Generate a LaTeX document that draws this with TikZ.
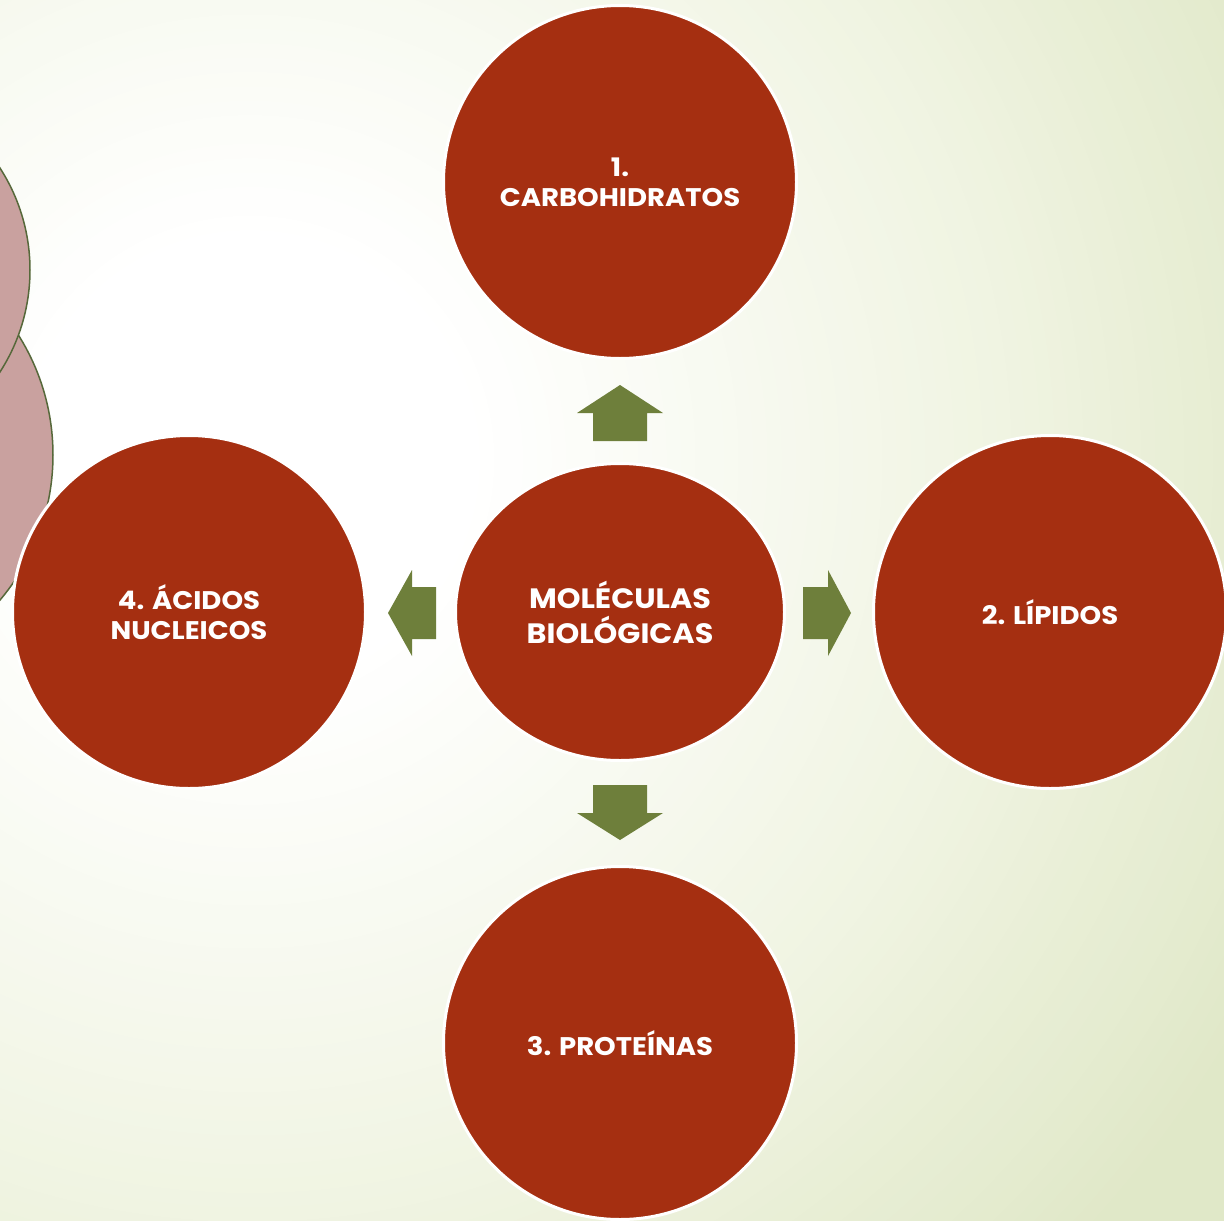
\documentclass[tikz,border=0pt]{standalone}
\usepackage{fontspec}
\setmainfont{Poppins}[FakeStretch=1.08]
\usetikzlibrary{shapes.geometric}
\definecolor{bggreen}{HTML}{E0E8C8}
\definecolor{bgmid}{HTML}{F0F4E2}
\definecolor{redfill}{HTML}{A52F11}
\definecolor{arrowgreen}{HTML}{6E7F3B}
\definecolor{pinkfill}{HTML}{C9A19F}
\definecolor{pinkline}{HTML}{56683A}
\tikzset{
  bubble/.style={circle, fill=redfill, draw=white, line width=3pt, minimum size=353pt, inner sep=0pt, text=white, align=center, font=\fontsize{25.5}{30}\selectfont\bfseries},
  hub/.style={ellipse, fill=redfill, draw=white, line width=3pt, minimum width=329pt, minimum height=297pt, inner sep=0pt, text=white, align=center, font=\fontsize{28}{35}\selectfont\bfseries},
  blockarrow/.style={fill=arrowgreen},
  pinkball/.style={fill=pinkfill, draw=pinkline, line width=1.5pt}
}
\begin{document}
\begin{tikzpicture}[x=1pt,y=-1pt]
\useasboundingbox (0,0) rectangle (1224,1221);
\begin{scope}
\clip (0,0) rectangle (1224,1221);
\fill[bggreen] (0,0) rectangle (1224,1221);
% background: concentric rings approximating a radial gradient
\foreach \i in {80,79,...,1}{
  \pgfmathsetmacro\t{\i/80}
  \pgfmathsetmacro\pa{min(100,max(0,(\t-0.2)/0.46*100))}
  \pgfmathsetmacro\pb{min(100,max(0,(\t-0.66)/0.34*100))}
  \pgfmathsetmacro\rad{\t*1150}
  \fill[color=bggreen!\pb!bgmid!\pa!white] (250,460) circle (\rad);
}
% pink background circles
\draw[pinkball] (-172,455) circle (225);
\draw[pinkball] (-158,270) circle (188);
\end{scope}
% nodes
\node[hub] (center) at (620,612) {MOLÉCULAS\\BIOLÓGICAS};
\node[bubble] (carb) at (620,182) {1.\\CARBOHIDRATOS};
\node[bubble] (lip) at (1050,612) {2. LÍPIDOS};
\node[bubble] (prot) at (620,1043) {3. PROTEÍNAS};
\node[bubble] (acid) at (189,612) {4. ÁCIDOS\\NUCLEICOS};
% block arrows
\fill[blockarrow] (593,441) -- (593,413) -- (577,413) -- (620,385) -- (663,413) -- (647,413) -- (647,441) -- cycle;
\fill[blockarrow] (593,785) -- (593,813) -- (577,813) -- (620,840) -- (663,813) -- (647,813) -- (647,785) -- cycle;
\fill[blockarrow] (436,587) -- (412,587) -- (412,570) -- (388,613) -- (412,656) -- (412,639) -- (436,639) -- cycle;
\fill[blockarrow] (803,587) -- (828,587) -- (828,570) -- (851,613) -- (828,656) -- (828,639) -- (803,639) -- cycle;
\end{tikzpicture}
\end{document}
